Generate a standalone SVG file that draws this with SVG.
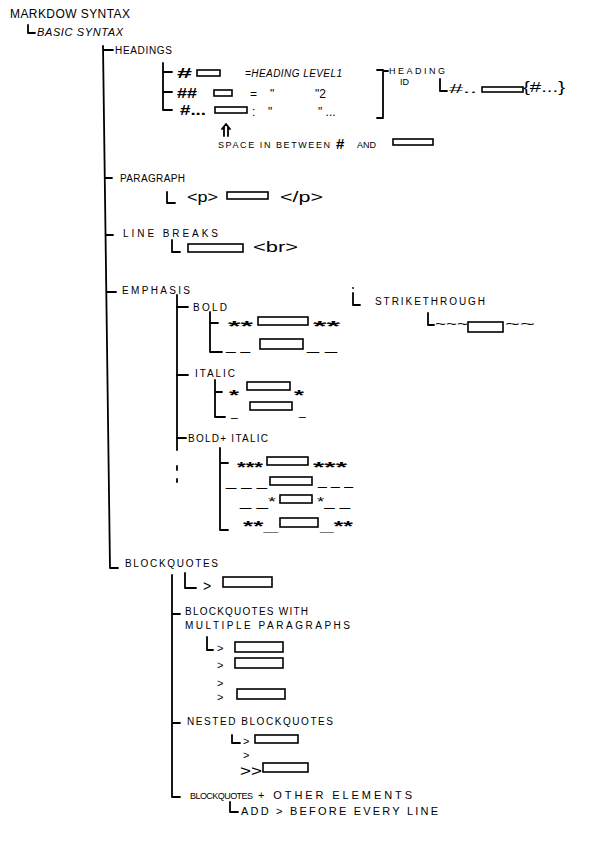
<svg xmlns="http://www.w3.org/2000/svg" width="597" height="844" viewBox="0 0 597 844">
<style>
text{font-family:"Liberation Sans","DejaVu Sans",sans-serif;fill:#000;font-size:10px}
.s{font-size:9px}
.m{font-size:12px}
.g{font-size:14px}
.q{font-size:11px}
.b{font-size:15px;font-weight:bold}
.ln{stroke:#000;stroke-width:1.8;fill:none;stroke-linecap:round;stroke-linejoin:round}
.bx{stroke:#000;stroke-width:1.6;fill:#fff}
</style>
<rect width="597" height="844" fill="#fff"/>
<g id="connectors" class="ln">
<path d="M28 25 V33 H35"/>
<path d="M103 46 L110 568 H118"/>
<path d="M104 50 H113"/>
<path d="M105 178 H112"/>
<path d="M106 235 H113"/>
<path d="M107 292 H116"/>
<path d="M163 63 V110 H172 M163 72 H172 M163 92 H172"/>
<path d="M177 295 V450"/>
<path d="M177 466 V470 M177 479 V482"/>
<path d="M177 307 H188 M177 375 H188 M177 438 H186"/>
<path d="M210 312 V352 H222 M210 323 H218"/>
<path d="M215 380 V417 H225 M215 392 H222"/>
<path d="M220 448 V530 H228 M220 463 H228"/>
<path d="M172 575 V797 H180 M172 614 H180 M172 723 H180"/>
</g>
<g id="title"><text class="m" x="10" y="18" textLength="120" lengthAdjust="spacing">MARKDOW SYNTAX</text></g>
<g id="basic"><text x="37" y="36" textLength="86" lengthAdjust="spacing" font-style="italic" style="font-size:11px">BASIC SYNTAX</text></g>
<g id="headings">
<text x="115" y="54" textLength="57" lengthAdjust="spacing">HEADINGS</text>
<text class="b" x="177" y="78" textLength="15" lengthAdjust="spacingAndGlyphs">#</text>
<rect class="bx" x="197" y="70" width="23" height="6"/>
<text x="245" y="77" textLength="97" lengthAdjust="spacing" font-style="italic">=HEADING LEVEL1</text>
<text class="b" x="177" y="98" textLength="20" lengthAdjust="spacingAndGlyphs">##</text>
<rect class="bx" x="214" y="90" width="18" height="6"/>
<text class="m" x="250" y="98">=</text>
<text class="m" x="270" y="98">"</text>
<text class="m" x="315" y="98">"2</text>
<text class="b" x="180" y="115" textLength="26" lengthAdjust="spacingAndGlyphs">#...</text>
<rect class="bx" x="215" y="107" width="32" height="6"/>
<text class="m" x="252" y="116">:</text>
<text class="m" x="268" y="116">"</text>
<text class="m" x="318" y="116">" ...</text>
<path class="ln" d="M377 70 H383 V118 H377 M383 71 H388"/>
<text class="s" x="389" y="74" textLength="56" lengthAdjust="spacing">HEADING</text>
<text class="s" x="400" y="85">ID</text>
<path class="ln" d="M440 79 V91 H447"/>
<text class="m" x="449" y="93" textLength="28" lengthAdjust="spacingAndGlyphs">#..</text>
<rect class="bx" x="482" y="87" width="41" height="5"/>
<text style="font-size:15px" x="523" y="92" textLength="42" lengthAdjust="spacingAndGlyphs">{#...}</text>
<path class="ln" d="M222 129 L226 124 L230 129 M224 127 V136 M228 127 V136" stroke-width="1.3"/>
<text class="s" x="218" y="148" textLength="112" lengthAdjust="spacing">SPACE IN BETWEEN</text>
<text class="b" x="336" y="149">#</text>
<text class="s" x="357" y="148">AND</text>
<rect class="bx" x="393" y="139" width="40" height="6"/>
</g>
<g id="paragraph">
<text x="120" y="182" textLength="65" lengthAdjust="spacing">PARAGRAPH</text>
<path class="ln" d="M167 192 V203 H175"/>
<text style="font-size:15px" x="187" y="202" textLength="31" lengthAdjust="spacingAndGlyphs">&lt;p&gt;</text>
<rect class="bx" x="227" y="192" width="41" height="7"/>
<text style="font-size:15px" x="280" y="202" textLength="43" lengthAdjust="spacingAndGlyphs">&lt;/p&gt;</text>
</g>
<g id="linebreaks">
<text x="123" y="237" textLength="95" lengthAdjust="spacing">LINE BREAKS</text>
<path class="ln" d="M172 240 V252 H180"/>
<rect class="bx" x="188" y="244" width="55" height="8"/>
<text style="font-size:15px" x="253" y="252" textLength="45" lengthAdjust="spacingAndGlyphs">&lt;br&gt;</text>
</g>
<g id="emphasis">
<text x="122" y="294" textLength="68" lengthAdjust="spacing">EMPHASIS</text>
</g>
<g id="bold">
<text x="193" y="311" textLength="34" lengthAdjust="spacing">BOLD</text>
<text class="b" x="228" y="331" textLength="25" lengthAdjust="spacingAndGlyphs">**</text>
<rect class="bx" x="258" y="317" width="50" height="8"/>
<text class="b" x="313" y="331" textLength="27" lengthAdjust="spacingAndGlyphs">**</text>
<text class="m" x="226" y="350" textLength="24" lengthAdjust="spacingAndGlyphs">_ _</text>
<rect class="bx" x="260" y="339" width="43" height="10"/>
<text class="m" x="307" y="350" textLength="30" lengthAdjust="spacingAndGlyphs">_ _</text>
</g>
<g id="italic">
<text x="195" y="377" textLength="40" lengthAdjust="spacing">ITALIC</text>
<text class="b" x="229" y="400" textLength="10" lengthAdjust="spacingAndGlyphs">*</text>
<rect class="bx" x="247" y="382" width="43" height="8"/>
<text class="b" x="294" y="400" textLength="10" lengthAdjust="spacingAndGlyphs">*</text>
<text class="m" x="231" y="416">_</text>
<rect class="bx" x="250" y="402" width="42" height="8"/>
<text class="m" x="299" y="415">_</text>
</g>
<g id="bolditalic">
<text x="188" y="442" textLength="80" lengthAdjust="spacing">BOLD+ ITALIC</text>
<text class="b" x="237" y="472" textLength="26" lengthAdjust="spacingAndGlyphs">***</text>
<rect class="bx" x="267" y="457" width="41" height="8"/>
<text class="b" x="313" y="472" textLength="34" lengthAdjust="spacingAndGlyphs">***</text>
<text class="m" x="226" y="486" textLength="41" lengthAdjust="spacingAndGlyphs">_ _ _</text>
<rect class="bx" x="270" y="477" width="42" height="8"/>
<text class="m" x="318" y="485" textLength="35" lengthAdjust="spacingAndGlyphs">_ _ _</text>
<text class="m" x="240" y="506" textLength="36" lengthAdjust="spacingAndGlyphs">_ _*</text>
<rect class="bx" x="280" y="495" width="32" height="8"/>
<text class="m" x="317" y="506" textLength="33" lengthAdjust="spacingAndGlyphs">*_ _</text>
<text class="b" x="243" y="531" textLength="35" lengthAdjust="spacingAndGlyphs">**_</text>
<rect class="bx" x="280" y="518" width="38" height="9"/>
<text class="b" x="320" y="531" textLength="33" lengthAdjust="spacingAndGlyphs">_**</text>
</g>
<g id="strikethrough">
<circle cx="353" cy="288" r="0.9" fill="#000"/>
<path class="ln" d="M353 293 V305 H360"/>
<text x="375" y="305" textLength="110" lengthAdjust="spacing">STRIKETHROUGH</text>
<path class="ln" d="M428 313 V325 H434"/>
<text class="m" x="435" y="328" textLength="33" lengthAdjust="spacingAndGlyphs">~~~</text>
<rect class="bx" x="468" y="322" width="35" height="10"/>
<text class="m" x="505" y="328" textLength="30" lengthAdjust="spacingAndGlyphs">~~</text>
</g>
<g id="blockquotes">
<text x="125" y="567" textLength="93" lengthAdjust="spacing">BLOCKQUOTES</text>
<path class="ln" d="M185 573 V588 H196"/>
<text class="g" x="203" y="591">&gt;</text>
<rect class="bx" x="223" y="577" width="49" height="10"/>
</g>
<g id="multiple">
<text x="185" y="615" textLength="123" lengthAdjust="spacing">BLOCKQUOTES WITH</text>
<text x="185" y="629" textLength="165" lengthAdjust="spacing">MULTIPLE PARAGRAPHS</text>
<path class="ln" d="M207 637 V650 H213"/>
<text class="q" x="217" y="652">&gt;</text>
<rect class="bx" x="235" y="642" width="48" height="10"/>
<text class="q" x="217" y="669">&gt;</text>
<text class="q" x="217" y="687">&gt;</text>
<rect class="bx" x="235" y="658" width="48" height="10"/>
<text class="q" x="217" y="701">&gt;</text>
<rect class="bx" x="237" y="689" width="48" height="10"/>
</g>
<g id="nested">
<text x="187" y="725" textLength="146" lengthAdjust="spacing">NESTED BLOCKQUOTES</text>
<path class="ln" d="M232 735 V743 H240"/>
<text class="q" x="243" y="745">&gt;</text>
<rect class="bx" x="255" y="735" width="43" height="8"/>
<text class="q" x="243" y="759">&gt;</text>
<text class="g" x="240" y="776" textLength="22" lengthAdjust="spacingAndGlyphs">&gt;&gt;</text>
<rect class="bx" x="263" y="763" width="45" height="9"/>
</g>
<g id="other">
<text class="s" x="190" y="799" textLength="63" lengthAdjust="spacing">BLOCKQUOTES</text>
<text style="font-size:11px" x="258" y="799" textLength="154" lengthAdjust="spacing">+ OTHER ELEMENTS</text>
<path class="ln" d="M230 802 V812 H238"/>
<text style="font-size:11px" x="241" y="815" textLength="197" lengthAdjust="spacing">ADD &gt; BEFORE EVERY LINE</text>
</g>
</svg>
